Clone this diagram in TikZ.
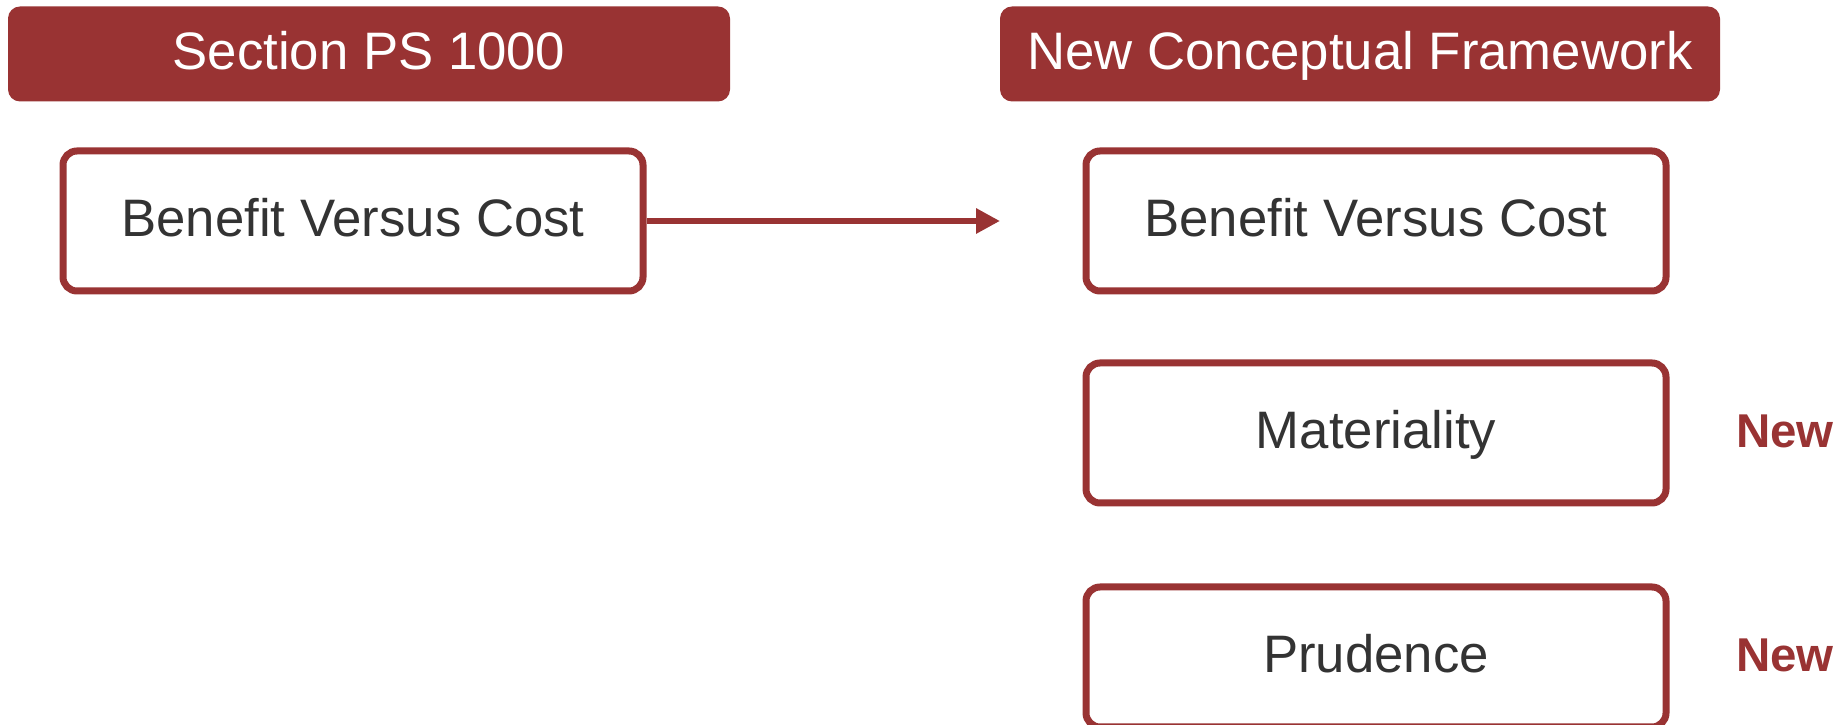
\documentclass[tikz,border=0pt]{standalone}
\usepackage{fontspec}
\setmainfont{Liberation Sans}
\usetikzlibrary{arrows.meta}
\definecolor{fwred}{RGB}{153,51,51}
\definecolor{fwgray}{RGB}{51,51,51}
\tikzset{
    every node/.style={inner sep=0mm, text height=0.9em, text depth=0em, font=\fontsize{15}{18}\selectfont}
}
\tikzset{hdr/.style={rectangle, rounded corners=1.2mm, fill=fwred, text=white, minimum height=9.5mm}}
\tikzset{item/.style={rectangle, rounded corners=1.4mm, draw=fwred, line width=0.7mm, fill=white, text=fwgray, minimum width=58.0mm, minimum height=14.0mm}}
\tikzset{newtag/.style={text=fwred, text height=0.8em, font=\fontsize{13.5}{16}\selectfont\bfseries}}

\begin{document}
\begin{tikzpicture}
  \useasboundingbox (0,0) rectangle (18.45,7.25);
    \node (hdrL) [hdr, minimum width=72.2mm] at (3.69,6.71) {Section PS 1000};
  \node (hdrR) [hdr, minimum width=72.0mm] at (13.60,6.71) {New Conceptual Framework};

  \node (bvcL) [item] at (3.53,5.04) {Benefit Versus Cost};
  \node (bvcR) [item] at (13.76,5.04) {Benefit Versus Cost};
  \node (mat) [item] at (13.76,2.92) {Materiality};
  \node (prud) [item] at (13.76,0.68) {Prudence};

  \node (new1) [newtag] at (17.85,2.92) {New};
  \node (new2) [newtag] at (17.85,0.68) {New};

  \coordinate (tip) at (10.00,5.04);
  \draw [fwred, line width=0.6mm, -{Triangle[length=2.4mm, width=2.4mm]}] (bvcL) -- (tip);
\end{tikzpicture}
\end{document}
